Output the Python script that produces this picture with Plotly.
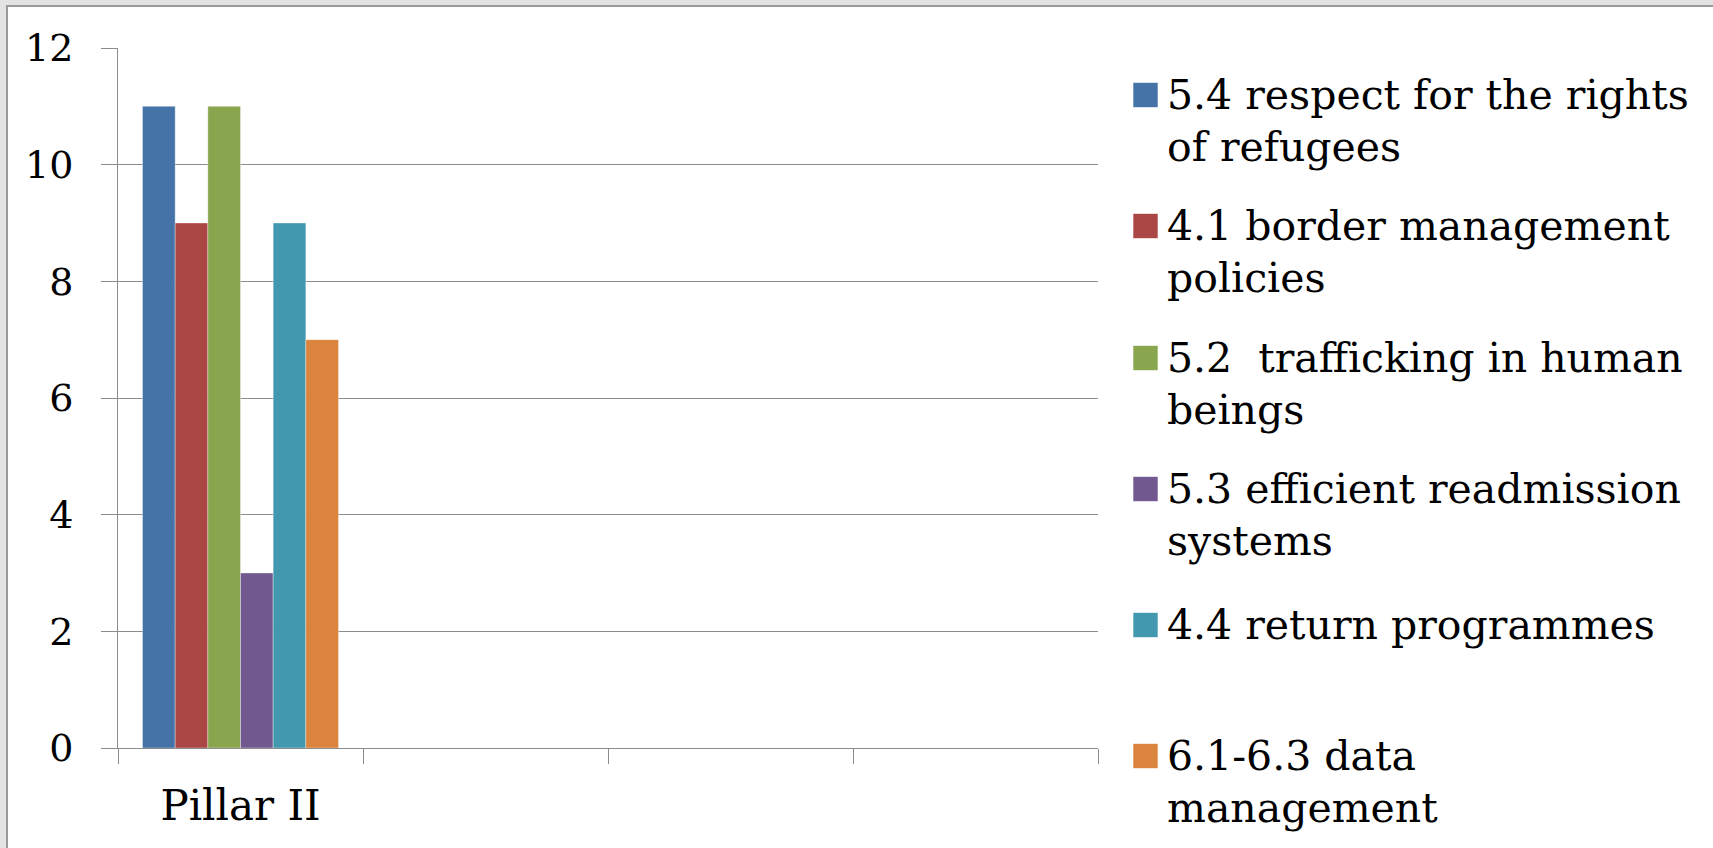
import plotly.graph_objects as go

# Chart data
categories = ["Pillar II", " ", "  ", "   "]
series_names = [
    "5.4 respect for the rights of refugees",
    "4.1 border management policies",
    "5.2  trafficking in human beings",
    "5.3 efficient readmission systems",
    "4.4 return programmes",
    "6.1-6.3 data management",
]
legend_lines = [
    ["5.4 respect for the rights", "of refugees"],
    ["4.1 border management", "policies"],
    ["5.2  trafficking in human", "beings"],
    ["5.3 efficient readmission", "systems"],
    ["4.4 return programmes"],
    ["6.1-6.3 data", "management"],
]
pillar_ii_values = [11, 9, 11, 3, 9, 7]
series_colors = ["#4572A7", "#AA4643", "#89A54E", "#71588F", "#4198AF", "#DB843D"]
y_ticks = [0, 2, 4, 6, 8, 10, 12]

# Page geometry (pixels)
W, H = 1713, 848
ML, MT = 118, 48
PW, PH = 980, 700
MR = W - ML - PW
MB = H - MT - PH

FONT = "DejaVu Serif"
GRID = "#8c8c8c"


def px(x):
    return (x - ML) / PW


def py(y):
    return 1 - (y - MT) / PH


fig = go.Figure()
for name, val, col in zip(series_names, pillar_ii_values, series_colors):
    fig.add_trace(go.Bar(
        x=[categories[0]], y=[val], name=name,
        marker=dict(color=col, line=dict(color="rgba(255,255,255,0.35)", width=1)),
        showlegend=False,
    ))

# Frame: grey band on top/left, white card with a thin border
shapes = [dict(
    type="rect", xref="paper", yref="paper", layer="below",
    x0=px(7), x1=px(W + 20), y0=py(H + 20), y1=py(6),
    fillcolor="white", line=dict(color="#9a9a9a", width=2),
)]

# Legend drawn as coloured squares with text beside them
row_centers = [95, 226, 358, 489, 625, 756]
line_step = 52
annotations = []
for lines, col, yc in zip(legend_lines, series_colors, row_centers):
    shapes.append(dict(
        type="rect", xref="paper", yref="paper",
        x0=px(1133), x1=px(1158), y0=py(yc + 12.5), y1=py(yc - 12.5),
        fillcolor=col, line=dict(color="rgba(255,255,255,0.6)", width=1),
    ))
    for i, ln in enumerate(lines):
        annotations.append(dict(
            xref="paper", yref="paper", x=px(1165), y=py(yc + i * line_step),
            xanchor="left", yanchor="middle", showarrow=False,
            text=ln.replace("  ", "\u00a0 "),
            font=dict(family=FONT, size=41, color="black"),
        ))

fig.update_layout(
    width=W, height=H,
    margin=dict(l=ML, r=MR, t=MT, b=MB),
    paper_bgcolor="#e3e3e3",
    plot_bgcolor="rgba(0,0,0,0)",
    barmode="group", bargap=0.2, bargroupgap=0,
    showlegend=False,
    shapes=shapes,
    annotations=annotations,
    font=dict(family=FONT, color="black"),
)
fig.update_xaxes(
    type="category", categoryorder="array", categoryarray=categories,
    range=[-0.5, 3.5], tickson="boundaries",
    ticks="outside", ticklen=15, tickcolor=GRID, tickwidth=1,
    showline=True, linecolor=GRID, linewidth=1,
    showgrid=False, zeroline=False,
    tickfont=dict(family=FONT, size=42, color="black"),
    ticklabelstandoff=21,
)
fig.update_yaxes(
    range=[0, 12], tickvals=y_ticks,
    ticks="outside", ticklen=16, tickcolor=GRID, tickwidth=1,
    showline=True, linecolor=GRID, linewidth=1,
    showgrid=True, gridcolor=GRID, gridwidth=1, zeroline=False,
    tickfont=dict(family=FONT, size=38, color="black"),
    ticklabelstandoff=20,
)

fig.write_html("out.html")
